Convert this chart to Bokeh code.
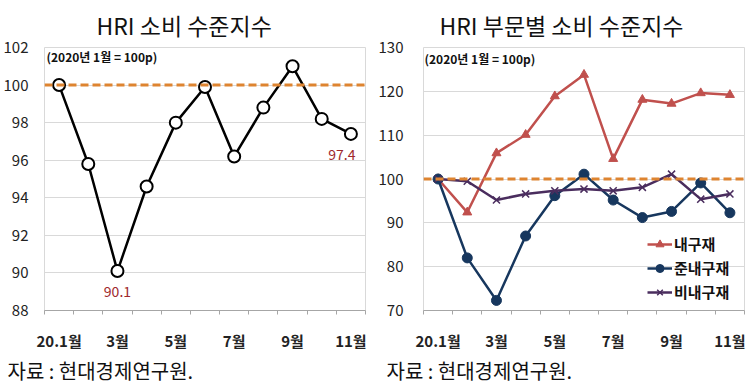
from bokeh.plotting import figure
from bokeh.models import FixedTicker, Label, Span, Legend, LegendItem, Range1d, Title
from bokeh.layouts import row
from bokeh.embed import file_html
from bokeh.resources import INLINE

# ---------------- data ----------------
months = list(range(11))
tick_labels = {0: "20.1월", 2: "3월", 4: "5월", 6: "7월", 8: "9월", 10: "11월"}
total_index = [100.0, 95.8, 90.1, 94.6, 98.0, 99.9, 96.2, 98.8, 101.0, 98.2, 97.4]
durable = [100.0, 92.4, 105.9, 110.1, 118.9, 123.8, 104.6, 118.1, 117.2, 119.6, 119.2]
semi_durable = [100.0, 82.0, 72.3, 87.0, 96.2, 101.1, 95.2, 91.2, 92.6, 99.1, 92.3]
non_durable = [100.0, 99.5, 95.2, 96.6, 97.3, 97.7, 97.3, 98.1, 101.1, 95.4, 96.6]
series_names = ["내구재", "준내구재", "비내구재"]
left_title = "HRI 소비 수준지수"
right_title = "HRI 부문별 소비 수준지수"
base_note = "(2020년 1월 = 100p)"
source_note = "자료 : 현대경제연구원."

FONT = "Noto Sans CJK KR"
ORANGE = "#DE8430"
LABEL_RED = "#A0282D"
RED = "#C0504D"
NAVY = "#17375E"
PURPLE = "#4A2D5E"


def base_fig(ymin, ymax, ystep, border_left, border_right, title_text, title_offset):
    p = figure(width=375, height=384, output_backend="svg", toolbar_location=None,
               x_range=Range1d(-0.5, 10.5), y_range=Range1d(ymin, ymax),
               min_border_left=border_left, min_border_right=border_right,
               min_border_top=46, min_border_bottom=74)
    p.outline_line_color = "#D9D9D9"
    p.background_fill_color = "white"
    p.border_fill_color = "white"
    p.xgrid.visible = False
    p.ygrid.grid_line_color = "#D9D9D9"
    p.ygrid.ticker = FixedTicker(ticks=list(range(ymin, ymax + 1, ystep)))
    # y axis
    p.yaxis.ticker = FixedTicker(ticks=list(range(ymin, ymax + 1, ystep)))
    p.yaxis.axis_line_color = None
    p.yaxis.major_tick_line_color = None
    p.yaxis.minor_tick_line_color = None
    p.yaxis.major_label_text_font = FONT
    p.yaxis.major_label_text_font_size = "15px"
    p.yaxis.major_label_text_color = "#222222"
    # x axis
    p.xaxis.ticker = FixedTicker(ticks=list(tick_labels.keys()),
                                 minor_ticks=[i - 0.5 for i in range(12)])
    p.xaxis.major_label_overrides = {k: v for k, v in tick_labels.items()}
    p.xaxis.axis_line_color = "#A6A6A6"
    p.xaxis.major_tick_line_color = None
    p.xaxis.minor_tick_line_color = "#A6A6A6"
    p.xaxis.minor_tick_in = 0
    p.xaxis.minor_tick_out = 4
    p.xaxis.major_label_standoff = 13
    p.xaxis.major_label_text_font = FONT
    p.xaxis.major_label_text_font_style = "bold"
    p.xaxis.major_label_text_font_size = "15px"
    p.xaxis.major_label_text_color = "#222222"
    p.add_layout(Span(location=100, dimension="width", line_color=ORANGE,
                      line_width=3, line_dash="8 4"))
    p.add_layout(Title(text=title_text, align="left", offset=title_offset, standoff=11,
                       text_font=FONT, text_font_size="23px", text_font_style="normal",
                       text_color="#111111"), "above")
    p.add_layout(Title(text=source_note, align="left", offset=-37, standoff=0,
                       text_font=FONT, text_font_size="20px", text_font_style="normal",
                       text_color="#111111"), "below")
    return p


# ---------------- left chart ----------------
p1 = base_fig(88, 102, 2, 42, 10, left_title, 52)
p1.yaxis.major_label_standoff = 10
p1.line(months, total_index, line_color="black", line_width=2.5)
p1.scatter(months, total_index, size=12, marker="circle", fill_color="white",
           line_color="black", line_width=2)
p1.add_layout(Label(x=-0.5, y=102, x_offset=2, y_offset=-9, text=base_note, text_font=FONT,
                    text_font_size="12px", text_font_style="bold", text_align="left",
                    text_baseline="middle", text_color="#111111"))
p1.add_layout(Label(x=2, y=total_index[2], y_offset=-20, text=f"{total_index[2]:.1f}",
                    text_font=FONT, text_font_size="14px", text_align="center",
                    text_baseline="middle", text_color=LABEL_RED))
p1.add_layout(Label(x=10, y=total_index[10], x_offset=-9, y_offset=-21,
                    text=f"{total_index[10]:.1f}", text_font=FONT, text_font_size="14px",
                    text_align="center", text_baseline="middle", text_color=LABEL_RED))

# ---------------- right chart ----------------
p2 = base_fig(70, 130, 10, 48, 6, right_title, 16)
p2.yaxis.major_label_standoff = 14
r_red = p2.line(months, durable, line_color=RED, line_width=2.5)
s_red = p2.scatter(months, durable, size=9, marker="triangle", fill_color=RED, line_color=RED)
r_navy = p2.line(months, semi_durable, line_color=NAVY, line_width=2.5)
s_navy = p2.scatter(months, semi_durable, size=10, marker="circle", fill_color=NAVY, line_color=NAVY)
r_pur = p2.line(months, non_durable, line_color=PURPLE, line_width=2.5)
s_pur = p2.scatter(months, non_durable, size=10, marker="x", line_color=PURPLE, line_width=1.5)
legend = Legend(items=[LegendItem(label=series_names[0], renderers=[r_red, s_red]),
                       LegendItem(label=series_names[1], renderers=[r_navy, s_navy]),
                       LegendItem(label=series_names[2], renderers=[r_pur, s_pur])],
                location=(224, 8), border_line_color=None, background_fill_alpha=0,
                glyph_width=25, glyph_height=20, label_height=20, spacing=3,
                padding=0, margin=0, label_standoff=2,
                label_text_font=FONT, label_text_font_size="15px",
                label_text_font_style="bold", label_text_color="#111111")
p2.add_layout(legend)
p2.add_layout(Label(x=-0.5, y=130, x_offset=1, y_offset=-11, text=base_note, text_font=FONT,
                    text_font_size="12px", text_font_style="bold", text_align="left",
                    text_baseline="middle", text_color="#111111"))

layout = row(p1, p2)
open("out.html", "w").write(file_html(layout, INLINE))
